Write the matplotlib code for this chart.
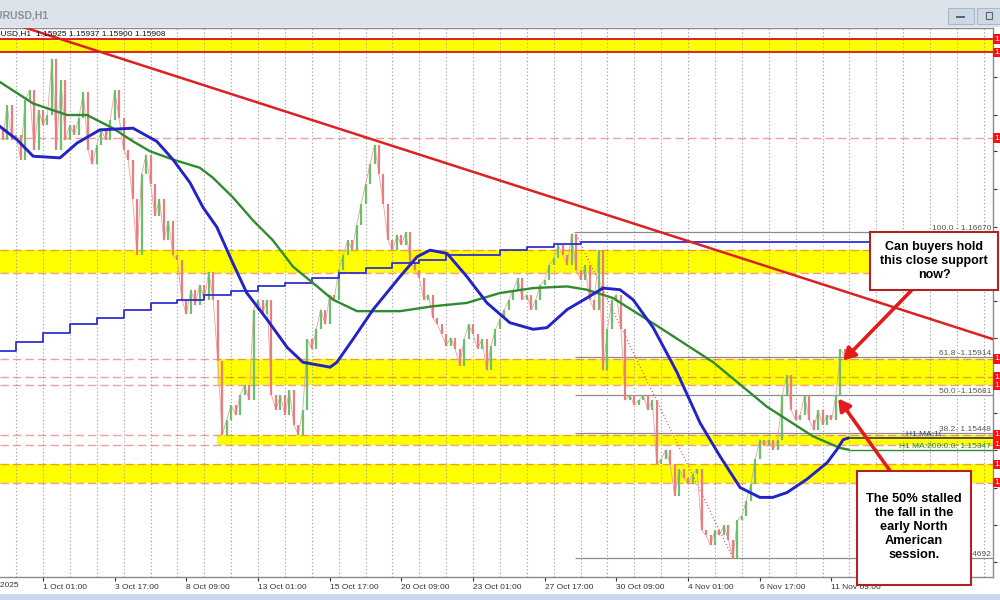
import numpy as np
import matplotlib.pyplot as plt
import matplotlib.transforms as mtransforms
from matplotlib.patches import Rectangle

plt.rcParams['font.family'] = ['Liberation Sans', 'DejaVu Sans']

# EURUSD H1, one candle drawn per 4 hourly bars (x = candle index)
first_open = 1.1730
closes = [
    1.1723, 1.1744, 1.1723, 1.1726, 1.1711, 1.1747, 1.1753, 1.1717, 1.1741, 1.1732,
    1.1738, 1.1772, 1.1717, 1.1759, 1.1723, 1.1732, 1.1726, 1.1736, 1.1752, 1.1717,
    1.1708, 1.1720, 1.1729, 1.1723, 1.1735, 1.1753, 1.1736, 1.1717, 1.1711, 1.1687,
    1.1653, 1.1702, 1.1714, 1.1696, 1.1677, 1.1687, 1.1662, 1.1674, 1.1653, 1.1650,
    1.1626, 1.1617, 1.1632, 1.1623, 1.1635, 1.1626, 1.1643, 1.1626, 1.1589, 1.1544,
    1.1553, 1.1562, 1.1556, 1.1568, 1.1574, 1.1565, 1.1620, 1.1626, 1.1617, 1.1626,
    1.1568, 1.1559, 1.1568, 1.1556, 1.1571, 1.1550, 1.1544, 1.1559, 1.1602, 1.1596,
    1.1608, 1.1620, 1.1611, 1.1629, 1.1626, 1.1644, 1.1653, 1.1662, 1.1656, 1.1671,
    1.1684, 1.1696, 1.1708, 1.1720, 1.1702, 1.1684, 1.1662, 1.1656, 1.1665, 1.1659,
    1.1667, 1.1649, 1.1644, 1.1639, 1.1626, 1.1629, 1.1615, 1.1611, 1.1605, 1.1598,
    1.1603, 1.1596, 1.1586, 1.1602, 1.1611, 1.1605, 1.1596, 1.1602, 1.1583, 1.1598,
    1.1608, 1.1614, 1.1620, 1.1626, 1.1632, 1.1639, 1.1626, 1.1629, 1.1620, 1.1626,
    1.1635, 1.1638, 1.1647, 1.1651, 1.1659, 1.1653, 1.1647, 1.1666, 1.1644, 1.1638,
    1.1647, 1.1626, 1.1620, 1.1656, 1.1583, 1.1608, 1.1626, 1.1629, 1.1608, 1.1565,
    1.1568, 1.1562, 1.1565, 1.1568, 1.1559, 1.1565, 1.1526, 1.1529, 1.1535, 1.1526,
    1.1507, 1.1523, 1.1518, 1.1514, 1.1520, 1.1523, 1.1486, 1.1483, 1.1477, 1.1486,
    1.1483, 1.1489, 1.1480, 1.1469, 1.1492, 1.1495, 1.1504, 1.1514, 1.1529, 1.1541,
    1.1538, 1.1541, 1.1535, 1.1541, 1.1568, 1.1580, 1.1559, 1.1553, 1.1556, 1.1568,
    1.1553, 1.1547, 1.1559, 1.1550, 1.1556, 1.1553, 1.1568, 1.1596, 1.1591,
]

# moving averages (candle index, price)
ma100_x = [-0.6, 3.2, 6.8, 12.8, 16.6, 21.7, 29.1, 34.4, 38.0, 41.8, 44.7, 47.8,
           51.4, 54.5, 59.0, 63.5, 67.0, 73.1, 74.6, 78.2, 82.7, 88.7, 92.5, 95.4,
           99.2, 103.6, 108.1, 113.2, 118.4, 121.5, 126.0, 130.4, 134.0, 137.8, 140.7, 145.2,
           150.5, 155.7, 160.1, 164.6, 169.0, 171.9, 175.1, 179.5, 184.0, 186.2, 187.6, 188.7]
ma100 = [1.1731, 1.1723, 1.1713, 1.1712, 1.1721, 1.1729, 1.1730, 1.1722, 1.1711, 1.1697, 1.1682, 1.1670,
         1.1648, 1.1630, 1.1614, 1.1597, 1.1588, 1.1585, 1.1588, 1.1602, 1.1620, 1.1640, 1.1652, 1.1656,
         1.1654, 1.1640, 1.1624, 1.1612, 1.1608, 1.1609, 1.1620, 1.1627, 1.1633, 1.1632, 1.1626, 1.1609,
         1.1582, 1.1551, 1.1531, 1.1512, 1.1506, 1.1506, 1.1509, 1.1517, 1.1527, 1.1535, 1.1541, 1.1542]

ma200_x = [-0.6, 6.8, 14.4, 18.8, 21.7, 24.6, 29.1, 32.9, 38.0, 44.0, 46.9, 51.4,
           55.9, 60.3, 64.8, 69.3, 73.7, 79.1, 88.7, 96.1, 103.6, 111.0, 118.4, 126.0,
           130.4, 136.2, 146.7, 158.6, 170.6, 180.9, 186.9, 188.7]
ma200 = [1.1758, 1.1745, 1.1738, 1.1738, 1.1734, 1.1730, 1.1722, 1.1716, 1.1711, 1.1706, 1.1700, 1.1688,
         1.1674, 1.1662, 1.1646, 1.1636, 1.1626, 1.1619, 1.1619, 1.1622, 1.1624, 1.1630, 1.1633, 1.1634,
         1.1632, 1.1627, 1.1609, 1.1588, 1.1561, 1.1543, 1.1536, 1.1535]

# daily step indicator
step_x = [-0.6, 3, 9, 15, 21, 27, 33, 39, 45, 51, 57, 63, 69, 75, 81, 87, 93, 99, 111, 117, 123, 129]
step_val = [1.1595, 1.1600, 1.1606, 1.1611, 1.1615, 1.1620, 1.1624, 1.1626, 1.1629, 1.1631, 1.1634,
            1.1636, 1.1639, 1.1642, 1.1645, 1.1648, 1.1650, 1.1653, 1.1656, 1.1658, 1.1660, 1.1661]

# trend line anchors
trend_x = [5.0, 221.05]
trend_y = [1.1791, 1.1602]

# support / resistance zones: (low, high, start index)
zones = [(1.1776, 1.1784, -0.6), (1.1642, 1.1656, -0.6), (1.1574, 1.1590, 47.8),
         (1.1538, 1.1544, 47.8), (1.1515, 1.1526, -0.6)]
dashed_levels = [1.1724, 1.1656, 1.1642, 1.1590, 1.1579, 1.1574, 1.1544, 1.1538, 1.1526, 1.1515]
red_labels = [1.1784, 1.1776, 1.1724, 1.1590, 1.1579, 1.1574, 1.1544, 1.1538, 1.1526, 1.1515]

# fibonacci retracement
fib_hi_x, fib_lo_x = 127.7, 163.0
fib_levels = [1.16670, 1.15914, 1.15681, 1.15448, 1.14692]
fib_names = ['100.0 - 1.16670', '61.8 -1.15914', '50.0 -1.15681', '38.2- 1.15448', '0.0 - 1.14692']

tick_pos = [9, 25, 41, 57, 73, 89, 105, 121, 137, 153, 169, 185]
tick_labels = ['1 Oct 01:00', '3 Oct 17:00', '8 Oct 09:00', '13 Oct 01:00', '15 Oct 17:00',
               '20 Oct 09:00', '23 Oct 01:00', '27 Oct 17:00', '30 Oct 09:00', '4 Nov 01:00',
               '6 Nov 17:00', '11 Nov 09:00']
ytick_vals = [1.1761, 1.1738, 1.1716, 1.1693, 1.1670, 1.1648, 1.1625, 1.1603,
              1.1580, 1.1557, 1.1535, 1.1512, 1.1489, 1.1467]

XMAX = 221.05

fig = plt.figure(figsize=(10, 6), dpi=100)
fig.patch.set_facecolor('white')
ax = fig.add_axes([0, 23 / 600, 0.993, 549 / 600])
ax.set_xlim(-0.6, XMAX)
ax.set_ylim(1.14577, 1.17908)
blend = mtransforms.blended_transform_factory(ax.transAxes, ax.transData)

# zones
for lo, hi, start in zones:
    ax.fill_between([start, XMAX], lo, hi, color='#ffff00', lw=0, zorder=0.5)
for lvl in dashed_levels:
    ax.axhline(lvl, color='#e05050', alpha=0.55, lw=1.0, ls=(0, (6, 3)), zorder=2)
for lvl in zones[0][:2]:
    ax.axhline(lvl, color='#e02020', lw=1.4, zorder=2)

# vertical grid every 24 hourly bars
for g in np.arange(3, XMAX, 6):
    ax.axvline(g, color='#9a9a9a', lw=0.8, ls=(0, (1, 2.2)), zorder=1.5)

# fib
ax.hlines(fib_levels, fib_hi_x, XMAX, color='#8c8c8c', lw=0.9, zorder=2.2)
ax.plot([fib_hi_x, fib_lo_x], [fib_levels[0], fib_levels[-1]], color='#e05050', lw=0.8,
        ls=(0, (1, 2)), zorder=2.5)

# candles
c = np.array(closes)
o = np.array([first_open] + closes[:-1])
idx = np.arange(len(c))
up = c >= o
ax.plot(idx, c, color='#eaa0a0', lw=0.6, zorder=2.8)
ax.vlines(idx[up], o[up], c[up], color='#6cbf6c', lw=1.6, zorder=3)
ax.vlines(idx[~up], c[~up], o[~up], color='#e87f7f', lw=1.6, zorder=3)

# indicators
ax.step(step_x + [XMAX], step_val + [step_val[-1]], where='post', color='#2f2fd0', lw=1.3, zorder=3.5)
ax.plot(ma200_x, ma200, color='#2e8b2e', lw=1.7, zorder=4)
ax.plot(ma100_x, ma100, color='#2323c8', lw=2.1, zorder=4.2)
ax.hlines(ma100[-1], ma100_x[-1], XMAX, color='#303060', lw=1.2, zorder=4)
ax.hlines(ma200[-1], ma200_x[-1], XMAX, color='#2e8b2e', lw=1.0, zorder=4)
ax.plot(trend_x, trend_y, color='#dd2020', lw=1.8, zorder=5)

# fib / MA labels
for lvl, name in zip(fib_levels, fib_names):
    ax.text(0.998, lvl, name, transform=blend, ha='right', va='bottom', fontsize=6,
            color='#555555', zorder=6)
t = ax.text(906 / 993, ma100[-1], 'H1 MA:100:0:0: 1.15421', transform=blend, ha='left',
            va='bottom', fontsize=6, color='#3a3aa0', zorder=6)
t.set_clip_box(mtransforms.TransformedBbox(mtransforms.Bbox([[0, 0], [0.941, 1]]), fig.transFigure))
t.set_clip_on(True)
ax.text(0.998, ma200[-1], 'H1 MA:200:0:0: 1.15347', transform=blend, ha='right', va='bottom',
        fontsize=6, color='#2e8b2e', zorder=6)

# axes styling
for side in ['top', 'right', 'bottom']:
    ax.spines[side].set_color('#8a8a8a')
    ax.spines[side].set_linewidth(1.0)
ax.spines['left'].set_visible(False)
ax.yaxis.tick_right()
ax.set_yticks(ytick_vals)
ax.set_yticklabels([f'{v:.5f}' for v in ytick_vals])
ax.tick_params(axis='y', direction='out', length=3, labelsize=6, pad=2, colors='#333333')
ax.set_xticks(tick_pos)
ax.set_xticklabels(tick_labels)
ax.tick_params(axis='x', direction='out', length=3, labelsize=6, pad=2, colors='#333333')
plt.setp(ax.get_xticklabels(), ha='left')
xblend = mtransforms.blended_transform_factory(ax.transData, ax.transAxes)
ax.text(-7, -0.0091, '26 Sep 2025', transform=xblend, ha='left', va='top', fontsize=6,
        color='#333333', clip_on=False)

# right price labels
for lvl in red_labels:
    ax.text(1.0015, lvl, f'{lvl:.5f}', transform=blend, ha='left', va='center', fontsize=6,
            color='white', clip_on=False, zorder=7,
            bbox=dict(boxstyle='square,pad=0.15', fc='#ff1010', ec='none'))

ax.text(-17 / 993, 1 - 6 / 549, 'EURUSD,H1  1.15925 1.15937 1.15900 1.15908', transform=ax.transAxes,
        ha='left', va='center', fontsize=6, color='#111111', zorder=6, clip_on=False)


def fx(x):
    return x / 1000


def fy(y):
    return 1 - y / 600


# window chrome
fig.add_artist(Rectangle((0, fy(27)), 1, 27 / 600, transform=fig.transFigure, fc='#dce3eb', ec='none', zorder=0))
fig.add_artist(Rectangle((0, 0), 1, 6 / 600, transform=fig.transFigure, fc='#c8d8ec', ec='none', zorder=0))
fig.text(fx(-12), fy(16), 'EURUSD,H1', fontsize=7.5, color='#8a9099', fontweight='bold', va='center')
fig.add_artist(Rectangle((fx(948), fy(24)), 26 / 1000, 16 / 600, transform=fig.transFigure,
                         fc='#cfd9e6', ec='#aab8c8', lw=0.8))
fig.add_artist(Rectangle((fx(956), fy(17.5)), 9 / 1000, 2 / 600, transform=fig.transFigure,
                         fc='#556677', ec='none'))
fig.add_artist(Rectangle((fx(977), fy(24)), 26 / 1000, 16 / 600, transform=fig.transFigure,
                         fc='#cfd9e6', ec='#aab8c8', lw=0.8))
fig.add_artist(Rectangle((fx(986), fy(18.5)), 6 / 1000, 6 / 600, transform=fig.transFigure,
                         fc='none', ec='#556677', lw=0.8))

# annotations
arrow = dict(arrowstyle='-|>,head_length=0.7,head_width=0.4', color='#e41b1b', lw=2.6,
             shrinkA=0, shrinkB=0)
ax.annotate('', xy=(187.6, 1.1589), xytext=(203.0, 1.1632), arrowprops=arrow,
            annotation_clip=False, zorder=8)
ax.annotate('', xy=(186.5, 1.1566), xytext=(198.1, 1.1522), arrowprops=arrow,
            annotation_clip=False, zorder=8)

fig.add_artist(Rectangle((fx(870), fy(290)), 128 / 1000, 58 / 600, transform=fig.transFigure,
                         fc='white', ec='#b22222', lw=1.5, zorder=9))
fig.text(fx(934), fy(261), 'Can buyers hold\nthis close support\nnow?', ha='center', va='center',
         fontsize=9, fontweight='bold', color='black', linespacing=1.2, zorder=10)
fig.add_artist(Rectangle((fx(857), fy(585)), 114 / 1000, 114 / 600, transform=fig.transFigure,
                         fc='white', ec='#b22222', lw=1.5, zorder=9))
fig.text(fx(914), fy(527), 'The 50% stalled\nthe fall in the\nearly North\nAmerican\nsession.',
         ha='center', va='center', fontsize=9.2, fontweight='bold', color='black',
         linespacing=1.25, zorder=10)

fig.savefig('out.png', dpi=100)
